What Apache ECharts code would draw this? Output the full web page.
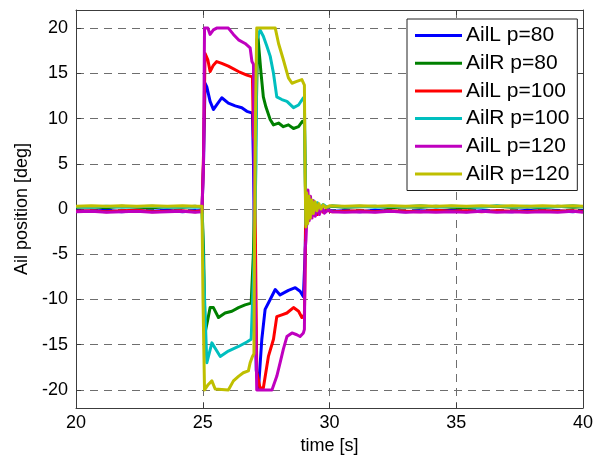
<!DOCTYPE html>
<html>
<head>
<meta charset="utf-8">
<title>Aileron position</title>
<script src="https://cdn.jsdelivr.net/npm/echarts@6/dist/echarts.min.js"></script>
<style>
  html, body { margin: 0; padding: 0; background: #ffffff; }
  #chart { width: 604px; height: 462px; }
</style>
</head>
<body>
<div id="chart"></div>
<script>
// Aileron deflection time histories, [time s, position deg]
const seriesNames = ['AilL p=80', 'AilR p=80', 'AilL p=100', 'AilR p=100', 'AilL p=120', 'AilR p=120'];
const seriesColors = ['#0000ff', '#008000', '#ff0000', '#00bfbf', '#bf00bf', '#bfbf00'];
const xTicks = [20, 25, 30, 35, 40];
const yTicks = [-20, -15, -10, -5, 0, 5, 10, 15, 20];

const ailL80 = [
  [20,-0.2],[20.6,-0.25],[21.2,-0.15],[21.8,-0.3],[22.4,-0.2],[23.0,-0.25],[23.6,-0.15],[24.2,-0.3],[24.7,-0.2],[24.97,-0.2],
  [25.03,5.0],[25.06,5.1],[25.09,13.9],[25.16,13.5],[25.29,11.9],[25.42,11.0],[25.55,11.5],[25.75,12.3],[26.01,11.7],
  [26.28,11.4],[26.54,11.2],[26.74,10.8],[26.96,10.6],[27.0,5.1],[27.04,4.9],[27.11,-17.8],[27.2,-19.8],[27.33,-14.4],
  [27.46,-11.1],[27.66,-10.0],[27.86,-8.9],[28.05,-9.5],[28.38,-9.0],[28.65,-8.7],[28.84,-9.1],[28.97,-9.7],[29.01,-9.5],
  [29.04,-4.8],[29.07,1.0],[29.11,-1.7],[29.16,1.0],[29.22,-0.9],[29.28,0.7],[29.35,-0.6],[29.43,0.4],[29.52,-0.5],
  [29.62,0.1],[29.75,-0.3],[29.9,-0.1],[30.1,-0.25],[30.6,-0.2],[31.2,-0.3],[31.8,-0.15],[32.4,-0.25],[33.0,-0.3],
  [33.6,-0.2],[34.2,-0.25],[34.8,-0.15],[35.4,-0.3],[36.0,-0.2],[36.6,-0.25],[37.2,-0.3],[37.8,-0.15],[38.4,-0.25],
  [39.0,-0.2],[39.6,-0.3],[40,-0.2]
];

const ailR80 = [
  [20,0.2],[20.6,0.25],[21.2,0.15],[21.8,0.3],[22.4,0.2],[23.0,0.15],[23.6,0.25],[24.2,0.2],[24.7,0.3],[24.97,0.2],
  [25.03,-4.3],[25.06,-4.5],[25.09,-13.7],[25.20,-12.2],[25.29,-10.9],[25.42,-10.9],[25.62,-12.0],[25.88,-11.5],
  [26.15,-11.3],[26.41,-10.9],[26.67,-10.6],[26.91,-10.4],[26.98,-10.3],[27.0,-4.8],[27.07,5.0],[27.17,19.4],
  [27.22,17.6],[27.30,15.0],[27.39,12.4],[27.49,11.3],[27.66,9.9],[27.79,9.3],[27.99,9.5],[28.18,9.1],[28.38,9.3],
  [28.58,8.9],[28.78,9.1],[28.93,9.7],[29.01,9.5],[29.04,5.1],[29.07,-1.5],[29.11,1.3],[29.16,-1.1],[29.22,1.0],
  [29.28,-0.6],[29.35,0.8],[29.43,-0.3],[29.52,0.6],[29.62,0.0],[29.75,0.4],[29.9,0.15],[30.1,0.3],[30.6,0.2],
  [31.2,0.25],[31.8,0.3],[32.4,0.15],[33.0,0.25],[33.6,0.2],[34.2,0.3],[34.8,0.2],[35.4,0.15],[36.0,0.25],
  [36.6,0.3],[37.2,0.2],[37.8,0.25],[38.4,0.15],[39.0,0.3],[39.6,0.2],[40,0.25]
];

const ailL100 = [
  [20,-0.25],[20.6,-0.2],[21.2,-0.3],[21.8,-0.2],[22.4,-0.15],[23.0,-0.3],[23.6,-0.25],[24.2,-0.2],[24.7,-0.3],[24.97,-0.2],
  [25.03,6.0],[25.06,6.2],[25.09,17.2],[25.20,16.5],[25.29,15.2],[25.42,15.9],[25.55,16.3],[25.75,16.1],[26.01,15.8],
  [26.41,15.2],[26.74,14.8],[26.96,14.6],[27.0,8.0],[27.04,7.5],[27.13,-18.0],[27.26,-19.8],[27.39,-19.8],[27.59,-16.3],
  [27.79,-14.4],[27.92,-11.9],[28.12,-11.7],[28.32,-11.5],[28.58,-10.9],[28.78,-11.3],[28.91,-12.0],[29.01,-11.7],
  [29.04,-6.3],[29.07,1.2],[29.11,-1.4],[29.16,1.1],[29.22,-1.0],[29.28,0.8],[29.35,-0.7],[29.43,0.5],[29.52,-0.6],
  [29.62,0.2],[29.75,-0.35],[29.9,-0.15],[30.1,-0.3],[30.6,-0.25],[31.2,-0.2],[31.8,-0.3],[32.4,-0.2],[33.0,-0.25],
  [33.6,-0.3],[34.2,-0.15],[34.8,-0.25],[35.4,-0.2],[36.0,-0.3],[36.6,-0.2],[37.2,-0.25],[37.8,-0.3],[38.4,-0.2],
  [39.0,-0.25],[39.6,-0.2],[40,-0.3]
];

const ailR100 = [
  [20,0.25],[20.6,0.2],[21.2,0.3],[21.8,0.2],[22.4,0.25],[23.0,0.3],[23.6,0.2],[24.2,0.25],[24.7,0.2],[24.97,0.25],
  [25.03,-6.5],[25.06,-6.7],[25.16,-17.0],[25.36,-14.8],[25.49,-15.4],[25.69,-16.3],[26.01,-15.7],[26.41,-15.2],
  [26.74,-14.7],[26.91,-14.4],[26.98,-14.3],[27.02,-6.0],[27.10,5.0],[27.13,18.7],[27.26,19.8],[27.39,19.1],
  [27.53,18.0],[27.66,16.9],[27.79,15.0],[27.92,12.4],[28.12,12.1],[28.32,11.9],[28.58,11.2],[28.78,11.5],
  [28.97,12.3],[29.01,12.0],[29.04,4.0],[29.07,-1.7],[29.11,1.5],[29.16,-1.2],[29.22,1.1],[29.28,-0.8],[29.35,0.9],
  [29.43,-0.4],[29.52,0.7],[29.62,0.0],[29.75,0.5],[29.9,0.2],[30.1,0.35],[30.6,0.25],[31.2,0.3],[31.8,0.2],
  [32.4,0.3],[33.0,0.25],[33.6,0.35],[34.2,0.2],[34.8,0.3],[35.4,0.25],[36.0,0.2],[36.6,0.35],[37.2,0.25],
  [37.8,0.3],[38.4,0.2],[39.0,0.25],[39.6,0.35],[40,0.25]
];

const ailL120 = [
  [20,-0.3],[20.6,-0.25],[21.2,-0.35],[21.8,-0.3],[22.4,-0.25],[23.0,-0.35],[23.6,-0.3],[24.2,-0.25],[24.7,-0.35],[24.97,-0.3],
  [25.03,5.0],[25.05,5.2],[25.07,20.0],[25.20,20.0],[25.29,19.3],[25.42,19.8],[25.55,20.0],[26.01,20.0],[26.21,19.3],
  [26.41,18.7],[26.67,18.3],[26.87,17.8],[26.94,16.3],[27.0,16.0],[27.05,-4.8],[27.07,-5.0],[27.13,-20.0],[27.73,-20.0],
  [27.92,-18.5],[28.05,-17.0],[28.18,-15.5],[28.32,-14.1],[28.52,-13.7],[28.71,-13.9],[28.84,-14.1],[28.97,-13.7],
  [29.01,-13.3],[29.04,-4.5],[29.07,-3.5],[29.10,-1.5],[29.15,2.1],[29.20,-1.3],[29.25,1.4],[29.31,-1.0],[29.37,0.9],
  [29.44,-0.8],[29.52,0.4],[29.60,-0.6],[29.70,0.2],[29.80,-0.45],[29.95,-0.1],[30.1,-0.3],[30.6,-0.35],[31.2,-0.3],
  [31.8,-0.35],[32.4,-0.25],[33.0,-0.35],[33.6,-0.3],[34.2,-0.35],[34.8,-0.3],[35.4,-0.35],[36.0,-0.25],[36.6,-0.35],
  [37.2,-0.3],[37.8,-0.35],[38.4,-0.3],[39.0,-0.35],[39.6,-0.25],[40,-0.35]
];

const ailR120 = [
  [20,0.3],[20.6,0.35],[21.2,0.3],[21.8,0.35],[22.4,0.3],[23.0,0.35],[23.6,0.3],[24.2,0.35],[24.7,0.3],[24.97,0.3],
  [25.01,-10.0],[25.07,-20.0],[25.22,-19.4],[25.36,-19.0],[25.49,-19.9],[26.01,-20.0],[26.21,-19.0],[26.41,-18.5],
  [26.60,-18.1],[26.80,-17.9],[26.87,-17.0],[26.96,-16.3],[27.02,-16.0],[27.04,-5.0],[27.08,10.0],[27.13,20.0],
  [27.86,20.0],[27.99,18.3],[28.18,16.5],[28.38,14.5],[28.52,13.9],[28.71,14.1],[28.91,14.3],[29.01,13.7],[29.04,3.0],
  [29.07,-2.0],[29.10,1.8],[29.14,-1.6],[29.19,1.4],[29.24,-1.0],[29.30,1.0],[29.36,-0.5],[29.43,0.8],[29.50,-0.2],
  [29.58,0.6],[29.66,0.0],[29.75,0.45],[29.85,0.15],[30.0,0.35],[30.6,0.3],[31.2,0.35],[31.8,0.3],[32.4,0.35],
  [33.0,0.3],[33.6,0.35],[34.2,0.3],[34.8,0.35],[35.4,0.3],[36.0,0.35],[36.6,0.3],[37.2,0.35],[37.8,0.3],
  [38.4,0.35],[39.0,0.3],[39.6,0.35],[40,0.3]
];

const seriesData = [ailL80, ailR80, ailL100, ailR100, ailL120, ailR120];

const FONT = '"Liberation Sans", Arial, Helvetica, sans-serif';
const frameColor = '#3c3c3c';
const gridLine = { show: true, lineStyle: { color: '#6e6e6e', width: 1, type: [8, 6] } };

const chart = echarts.init(document.getElementById('chart'), null, { renderer: 'canvas' });

chart.setOption({
  animation: false,
  backgroundColor: '#ffffff',
  textStyle: { fontFamily: FONT },
  grid: { left: 76, right: 21, top: 10, bottom: 54, containLabel: false },
  legend: {
    orient: 'vertical',
    left: 407,
    top: 19,
    data: seriesNames,
    icon: 'rect',
    itemWidth: 47,
    itemHeight: 3,
    itemGap: 6.7,
    padding: [6, 8, 6, 8],
    backgroundColor: '#ffffff',
    borderColor: '#222222',
    borderWidth: 1,
    borderRadius: 0,
    textStyle: { fontFamily: FONT, fontSize: 21, color: '#000000', lineHeight: 21, padding: [0, 0, 0, -1] }
  },
  xAxis: [
    {
      type: 'value', min: 20, max: 40, interval: 5, position: 'bottom',
      name: 'time [s]', nameLocation: 'middle', nameGap: 27,
      nameTextStyle: { fontFamily: FONT, fontSize: 18, color: '#000000' },
      axisLine: { show: true, onZero: false, lineStyle: { color: frameColor, width: 1 } },
      axisTick: { show: true, inside: true, length: 5, lineStyle: { color: frameColor } },
      axisLabel: { fontFamily: FONT, fontSize: 18, color: '#000000', margin: 6,
        customValues: xTicks },
      splitLine: gridLine
    },
    {
      type: 'value', min: 20, max: 40, interval: 5, position: 'top',
      axisLine: { show: true, onZero: false, lineStyle: { color: frameColor, width: 1 } },
      axisTick: { show: true, inside: true, length: 5, lineStyle: { color: frameColor } },
      axisLabel: { show: false },
      splitLine: { show: false }
    }
  ],
  yAxis: [
    {
      type: 'value', min: -22, max: 22, position: 'left',
      name: 'Ail position [deg]', nameLocation: 'middle', nameGap: 43,
      nameTextStyle: { fontFamily: FONT, fontSize: 18, color: '#000000' },
      axisLine: { show: true, onZero: false, lineStyle: { color: frameColor, width: 1 } },
      axisTick: { show: true, inside: true, length: 5, lineStyle: { color: frameColor }, customValues: yTicks },
      axisLabel: { fontFamily: FONT, fontSize: 18, color: '#000000', margin: 8, customValues: yTicks },
      splitLine: gridLine
    },
    {
      type: 'value', min: -22, max: 22, position: 'right',
      axisLine: { show: true, onZero: false, lineStyle: { color: frameColor, width: 1 } },
      axisTick: { show: true, inside: true, length: 5, lineStyle: { color: frameColor }, customValues: yTicks },
      axisLabel: { show: false },
      splitLine: { show: false }
    }
  ],
  series: seriesNames.map((name, i) => ({
    name: name,
    type: 'line',
    xAxisIndex: 0,
    yAxisIndex: 0,
    data: seriesData[i],
    showSymbol: false,
    symbol: 'none',
    clip: true,
    color: seriesColors[i],
    lineStyle: { color: seriesColors[i], width: 3, join: 'round' }
  }))
});
</script>
</body>
</html>
